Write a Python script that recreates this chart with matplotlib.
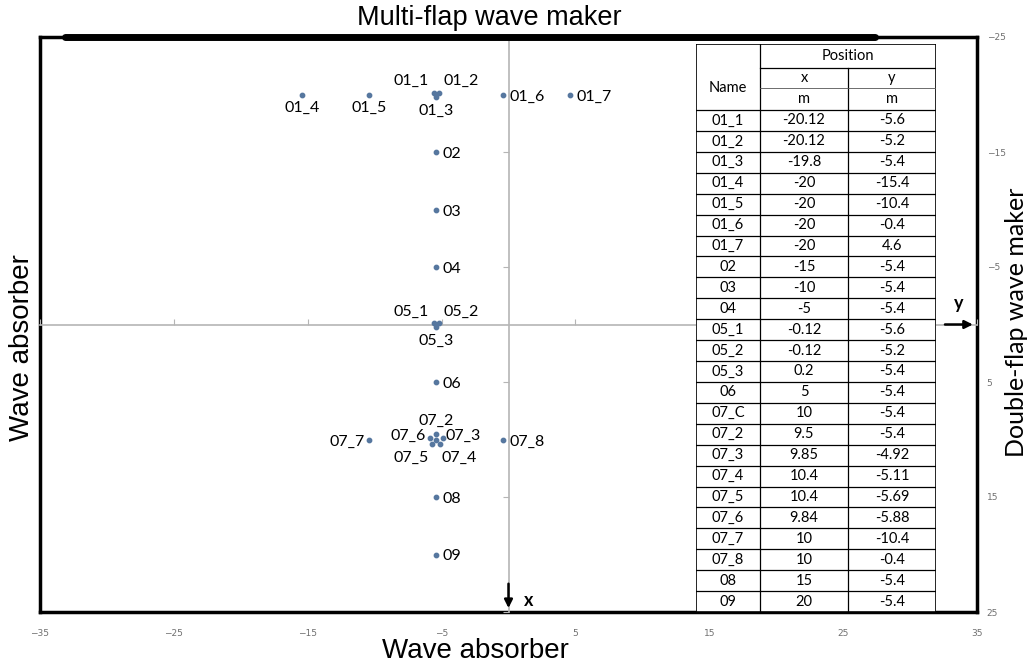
import matplotlib.pyplot as plt

# gauge positions (x along the tank, y across the tank), metres
names = ['01_1', '01_2', '01_3', '01_4', '01_5', '01_6', '01_7',
         '02', '03', '04', '05_1', '05_2', '05_3', '06',
         '07_C', '07_2', '07_3', '07_4', '07_5', '07_6', '07_7', '07_8',
         '08', '09']
pos_x = [-20.12, -20.12, -19.8, -20, -20, -20, -20,
         -15, -10, -5, -0.12, -0.12, 0.2, 5,
         10, 9.5, 9.85, 10.4, 10.4, 9.84, 10, 10,
         15, 20]
pos_y = [-5.6, -5.2, -5.4, -15.4, -10.4, -0.4, 4.6,
         -5.4, -5.4, -5.4, -5.6, -5.2, -5.4, -5.4,
         -5.4, -5.4, -4.92, -5.11, -5.69, -5.88, -10.4, -0.4,
         -5.4, -5.4]

h_ticks = [-35, -25, -15, -5, 5, 15, 25, 35]
v_ticks = [-25, -15, -5, 5, 15, 25]

# label placement around each dot: (dx, dy) in pixels, horizontal alignment
right = ((6, -2), 'left')
label_pos = {
    '01_1': ((-22, 12), 'center'), '01_2': ((22, 12), 'center'),
    '01_3': ((0, -14), 'center'), '01_4': ((0, -13), 'center'),
    '01_5': ((0, -13), 'center'), '01_6': right, '01_7': right,
    '02': right, '03': right, '04': right,
    '05_1': ((-22, 11), 'center'), '05_2': ((22, 11), 'center'),
    '05_3': ((0, -14), 'center'), '06': right,
    '07_2': ((0, 13), 'center'), '07_3': ((3, 2), 'left'),
    '07_4': ((19, -14), 'center'), '07_5': ((-21, -14), 'center'),
    '07_6': ((-4, 2), 'right'), '07_7': ((-5, -2), 'right'),
    '07_8': right, '08': right, '09': right,
}

W, H = 1036, 664
fig = plt.figure(figsize=(W / 100, H / 100), dpi=100)

calibri = ['Lato', 'DejaVu Sans']
arial = ['Liberation Sans', 'DejaVu Sans']

box = [40 / W, 1 - 612 / H, 937 / W, 575 / H]
ax = fig.add_axes(box)
ax.set_xlim(-35, 35)
ax.set_ylim(25, -25)
for s in ax.spines.values():
    s.set_linewidth(2.5)
    s.set_color('black')
ax.set_xticks(h_ticks)
ax.set_yticks(v_ticks)
ax.yaxis.tick_right()
ax.tick_params(length=0, labelsize=6.5, labelcolor='#6f6f6f')
ax.tick_params(axis='x', pad=12)
ax.tick_params(axis='y', pad=7)

# grey axes crossing at the origin
cross = fig.add_axes(box, sharex=ax, sharey=ax, facecolor='none')
for side in ['top', 'right']:
    cross.spines[side].set_visible(False)
cross.spines['left'].set_position(('data', 0))
cross.spines['bottom'].set_position(('data', 0))
for side in ['left', 'bottom']:
    cross.spines[side].set_color('#b5b5b5')
    cross.spines[side].set_linewidth(1.2)
cross.tick_params(axis='x', direction='in', length=4, color='#b5b5b5',
                  labelbottom=False)
cross.tick_params(axis='y', direction='out', length=4, color='#b5b5b5',
                  labelleft=False, labelright=False, right=False)

cross.scatter(pos_y, pos_x, s=10, color='#56779f', zorder=3)
for n, px, py in zip(names, pos_x, pos_y):
    if n not in label_pos:
        continue
    (dx, dy), ha = label_pos[n]
    cross.annotate(n, (py, px), xytext=(dx, dy), textcoords='offset pixels',
                   ha=ha, va='center', fontsize=11.5, family=calibri)

# wave maker bar along the top wall
cross.plot([0.027, 0.891], [1.0, 1.0], transform=cross.transAxes,
           color='black', lw=5, solid_capstyle='round', clip_on=False,
           zorder=5)

# coordinate arrows
arrow = dict(arrowstyle='-|>', color='black', lw=1.8, mutation_scale=12)
cross.annotate('', xy=(34.9, 0), xytext=(32.4, 0), arrowprops=arrow,
               annotation_clip=False, zorder=6)
cross.text(33.6, -1.8, 'y', fontsize=13, fontweight='bold', ha='center',
           va='center', family=calibri)
cross.annotate('', xy=(0, 24.9), xytext=(0, 22.3), arrowprops=arrow,
               annotation_clip=False, zorder=6)
cross.text(1.5, 24.0, 'x', fontsize=13, fontweight='bold', ha='center',
           va='center', family=calibri)

# position table
tab = fig.add_axes([696 / W, 1 - 612 / H, 240 / W, 568 / H], zorder=4)
tab.set_xlim(0, 240)
tab.set_ylim(568, 0)
tab.axis('off')
tab.add_patch(plt.Rectangle((0, 0), 240, 568, facecolor='white',
                            edgecolor='black', lw=1.2))
head = [24, 44, 66]
row_h = (568 - head[2]) / len(names)
lw = 0.9
tab.plot([64, 64], [0, 568], color='black', lw=lw)
tab.plot([152, 152], [24, 568], color='black', lw=lw)
tab.plot([64, 240], [24, 24], color='black', lw=lw)
tab.plot([64, 240], [44, 44], color='#555555', lw=0.6)
tab.plot([0, 240], [66, 66], color='black', lw=lw)
for i in range(1, len(names)):
    yy = head[2] + i * row_h
    tab.plot([0, 240], [yy, yy], color='black', lw=lw)
fs = 10.5
tab.text(152, 12, 'Position', ha='center', va='center', fontsize=fs, family=calibri)
tab.text(32, 44, 'Name', ha='center', va='center', fontsize=fs, family=calibri)
tab.text(108, 34, 'x', ha='center', va='center', fontsize=fs, family=calibri)
tab.text(196, 34, 'y', ha='center', va='center', fontsize=fs, family=calibri)
tab.text(108, 55, 'm', ha='center', va='center', fontsize=fs, family=calibri)
tab.text(196, 55, 'm', ha='center', va='center', fontsize=fs, family=calibri)
for i, (n, px, py) in enumerate(zip(names, pos_x, pos_y)):
    yy = head[2] + (i + 0.5) * row_h
    tab.text(32, yy, n, ha='center', va='center', fontsize=fs, family=calibri)
    tab.text(108, yy, f'{px:g}', ha='center', va='center', fontsize=fs, family=calibri)
    tab.text(196, yy, f'{py:g}', ha='center', va='center', fontsize=fs, family=calibri)

# boundary names
fig.text(489 / W, 1 - 18 / H, 'Multi-flap wave maker', ha='center',
         va='center', fontsize=19.5, family=arial)
fig.text(475 / W, 1 - 651 / H, 'Wave absorber', ha='center', va='center',
         fontsize=20, family=arial)
fig.text(22 / W, 1 - 348 / H, 'Wave absorber', ha='center', va='center',
         fontsize=20, rotation=90, family=arial)
fig.text(1016 / W, 1 - 322 / H, 'Double-flap wave maker', ha='center',
         va='center', fontsize=18, rotation=90, family=calibri)

fig.savefig('out.png', dpi=100)
